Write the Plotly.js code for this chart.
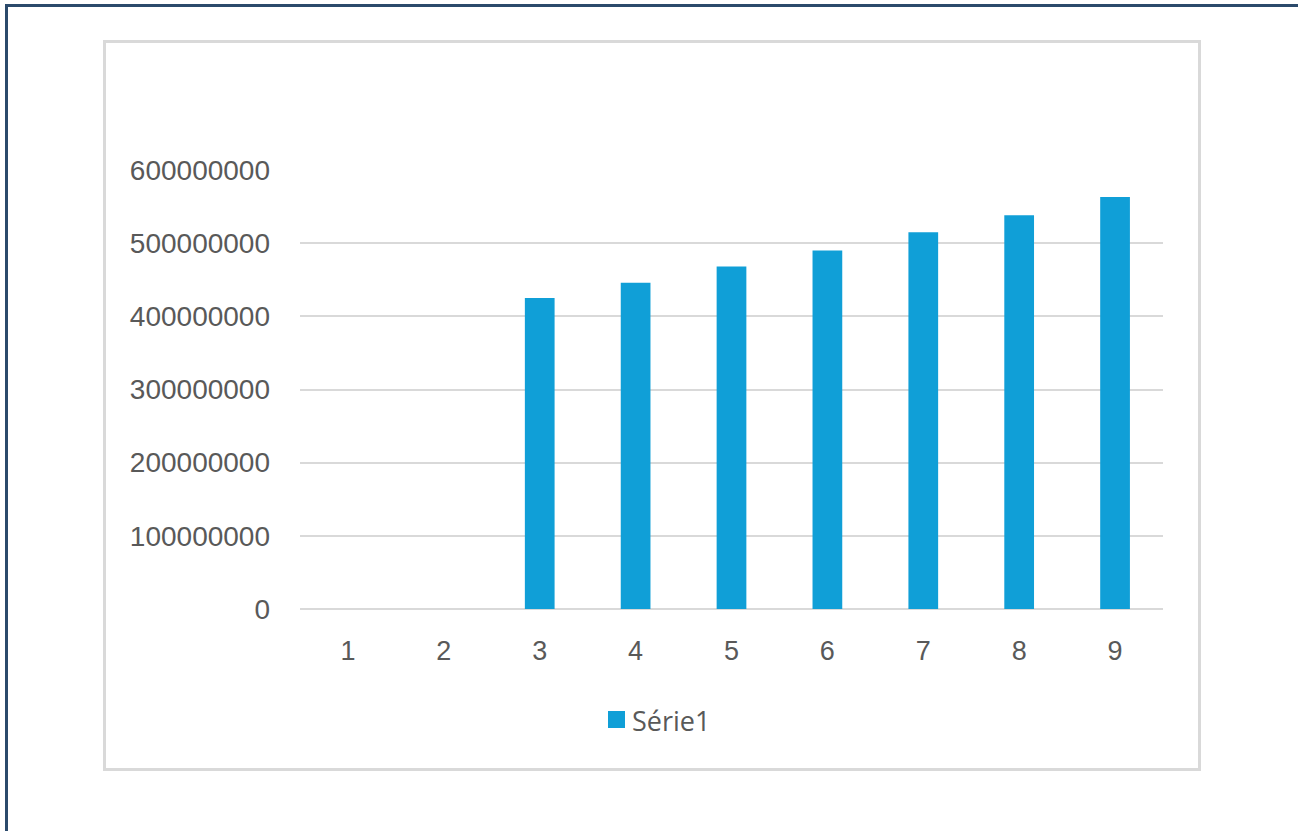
<!DOCTYPE html>
<html>
<head>
<meta charset="utf-8">
<script src="https://cdn.plot.ly/plotly-3.0.1.min.js"></script>
<style>
  html, body { margin: 0; padding: 0; background: #ffffff; overflow: hidden; }
  #wrap { position: relative; width: 1298px; height: 831px; }
  #chart { position: absolute; left: 0; top: 0; width: 1298px; height: 831px; }
  #outer { position: absolute; left: 5px; top: 4px; width: 1300px; height: 900px;
           border: 3px solid #2b4a6b; box-sizing: border-box; pointer-events: none; }
  #inner { position: absolute; left: 103px; top: 40px; width: 1098px; height: 731px;
           border: 3px solid #d9d9d9; box-sizing: border-box; pointer-events: none; }
</style>
</head>
<body>
<div id="wrap">
  <div id="chart"></div>
  <div id="outer"></div>
  <div id="inner"></div>
</div>
<script>
const categories = ["1", "2", "3", "4", "5", "6", "7", "8", "9"];
const values = [0, 0, 425000000, 446000000, 468000000, 490000000, 515000000, 538000000, 563000000];
const seriesName = "Série1";
const yTicks = [0, 100000000, 200000000, 300000000, 400000000, 500000000, 600000000];
const yTickLabels = ["0", "100000000", "200000000", "300000000", "400000000", "500000000", "600000000"];

const barColor = "#109fd7";

const trace = {
  type: "bar",
  x: categories,
  y: values,
  name: seriesName,
  marker: { color: barColor, line: { width: 0 } },
  showlegend: false,
  hoverinfo: "x+y"
};

// plot area: x 300..1163, y 170..609
const L = 300, R = 135, T = 170, B = 222, W = 1298, H = 831;
const pw = W - L - R, ph = H - T - B;
const px = v => (v - L) / pw;
const py = v => (H - B - v) / ph;

const layout = {
  width: W,
  height: H,
  paper_bgcolor: "rgba(0,0,0,0)",
  plot_bgcolor: "rgba(0,0,0,0)",
  margin: { l: L, r: R, t: T, b: B, pad: 0 },
  bargap: 0.69,
  showlegend: false,
  xaxis: {
    type: "category",
    tickmode: "array",
    tickvals: categories,
    ticktext: categories,
    showgrid: false,
    showline: false,
    zeroline: false,
    ticks: "",
    ticklabelstandoff: 23,
    tickfont: { family: "'Liberation Sans', Arial, sans-serif", size: 27, color: "#595959" }
  },
  yaxis: {
    range: [0, 600000000],
    tickmode: "array",
    tickvals: yTicks,
    ticktext: yTickLabels,
    showgrid: true,
    gridcolor: "#d9d9d9",
    gridwidth: 2,
    zeroline: true,
    zerolinecolor: "#d9d9d9",
    zerolinewidth: 2,
    showline: false,
    ticks: "",
    ticklabelstandoff: 29,
    tickfont: { family: "'Liberation Sans', Arial, sans-serif", size: 28, color: "#595959" }
  },
  shapes: [{
    type: "rect", xref: "paper", yref: "paper",
    x0: px(608), x1: px(625), y0: py(711), y1: py(728),
    fillcolor: barColor, line: { width: 0 }
  }],
  annotations: [{
    xref: "paper", yref: "paper",
    x: px(630), y: py(720),
    xanchor: "left", yanchor: "middle",
    showarrow: false,
    text: seriesName,
    font: { family: "'Open Sans', 'Noto Sans', sans-serif", size: 27, color: "#595959" }
  }]
};

Plotly.newPlot("chart", [trace], layout, { displayModeBar: false, staticPlot: true });
</script>
</body>
</html>
